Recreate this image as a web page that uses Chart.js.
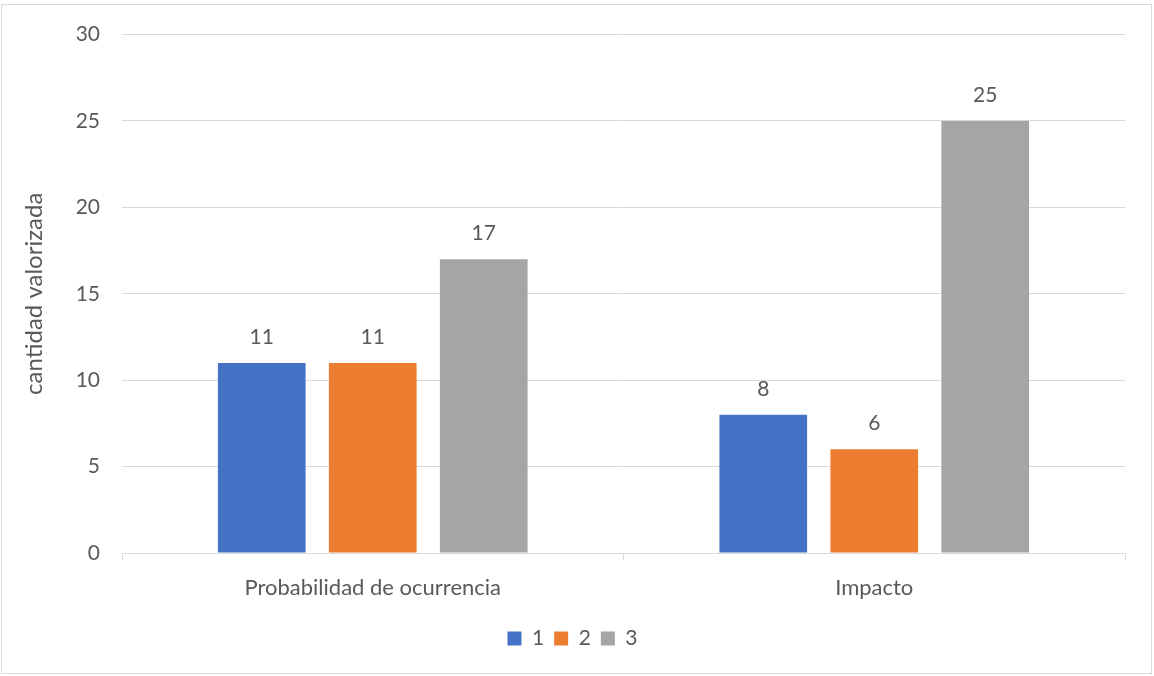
<!DOCTYPE html>
<html>
<head>
<meta charset="utf-8">
<script src="https://cdn.jsdelivr.net/npm/chart.js@4"></script>
<style>
  html, body { margin: 0; padding: 0; background: #fff; }
  #wrap { width: 1154px; height: 676px; }
</style>
</head>
<body>
<div id="wrap"><canvas id="riskChart" width="1154" height="676"></canvas></div>
<script>
var categories = ["Probabilidad de ocurrencia", "Impacto"];
var seriesNames = ["1", "2", "3"];
var series1 = [11, 8];
var series2 = [11, 6];
var series3 = [17, 25];
var yTicks = [0, 5, 10, 15, 20, 25, 30];

var colors = ["#4472c4", "#ed7d31", "#a5a5a5"];
var textColor = "#595959";
var gridColor = "#d9d9d9";
var fontFamily = "Lato, 'Open Sans', sans-serif";
var fontSize = 21;

// value labels over each bar
var barLabels = {
    id: "barLabels",
    afterDatasetsDraw: function(chart) {
        var ctx = chart.ctx;
        ctx.save();
        ctx.fillStyle = textColor;
        ctx.font = fontSize + "px " + fontFamily;
        ctx.textAlign = "center";
        ctx.textBaseline = "middle";
        chart.data.datasets.forEach(function(ds, i) {
            chart.getDatasetMeta(i).data.forEach(function(bar, j) {
                ctx.fillText(ds.data[j], bar.x, bar.y - 26);
            });
        });
        ctx.restore();
    }
};

// thin frame around the whole chart
var frame = {
    id: "frame",
    beforeDraw: function(chart) {
        var ctx = chart.ctx;
        ctx.save();
        ctx.strokeStyle = gridColor;
        ctx.lineWidth = 1;
        ctx.strokeRect(1.5, 4.5, 1150, 669);
        ctx.restore();
    }
};

var data = {
    labels: categories,
    datasets: [
        { label: seriesNames[0], data: series1, backgroundColor: colors[0] },
        { label: seriesNames[1], data: series2, backgroundColor: colors[1] },
        { label: seriesNames[2], data: series3, backgroundColor: colors[2] }
    ]
};

new Chart(document.getElementById("riskChart").getContext("2d"), {
    type: "bar",
    data: data,
    plugins: [barLabels, frame],
    options: {
        responsive: false,
        animation: false,
        layout: { padding: { top: 34, right: 29, bottom: 17, left: 20 } },
        datasets: {
            bar: { barPercentage: 0.79, categoryPercentage: 0.664 }
        },
        plugins: {
            legend: {
                position: "bottom",
                labels: {
                    boxWidth: 14,
                    boxHeight: 14,
                    padding: 10,
                    color: textColor,
                    font: { family: fontFamily, size: fontSize }
                }
            },
            tooltip: { enabled: false }
        },
        scales: {
            x: {
                grid: { drawOnChartArea: false, drawTicks: true, tickLength: 7, color: gridColor },
                border: { color: gridColor },
                ticks: { color: textColor, font: { family: fontFamily, size: 22 }, padding: 15 },
                afterFit: function(scale) { scale.height = 65; }
            },
            y: {
                min: 0,
                max: 30,
                afterBuildTicks: function(scale) {
                    scale.ticks = yTicks.map(function(v) { return { value: v }; });
                },
                grid: { color: gridColor, drawTicks: false },
                border: { display: false },
                ticks: { color: textColor, font: { family: fontFamily, size: fontSize }, padding: 22 },
                title: {
                    display: true,
                    text: "cantidad valorizada",
                    color: textColor,
                    padding: 0,
                    font: { family: fontFamily, size: 24 }
                },
                afterFit: function(scale) { scale.width = 102; }
            }
        }
    }
});
</script>
</body>
</html>
